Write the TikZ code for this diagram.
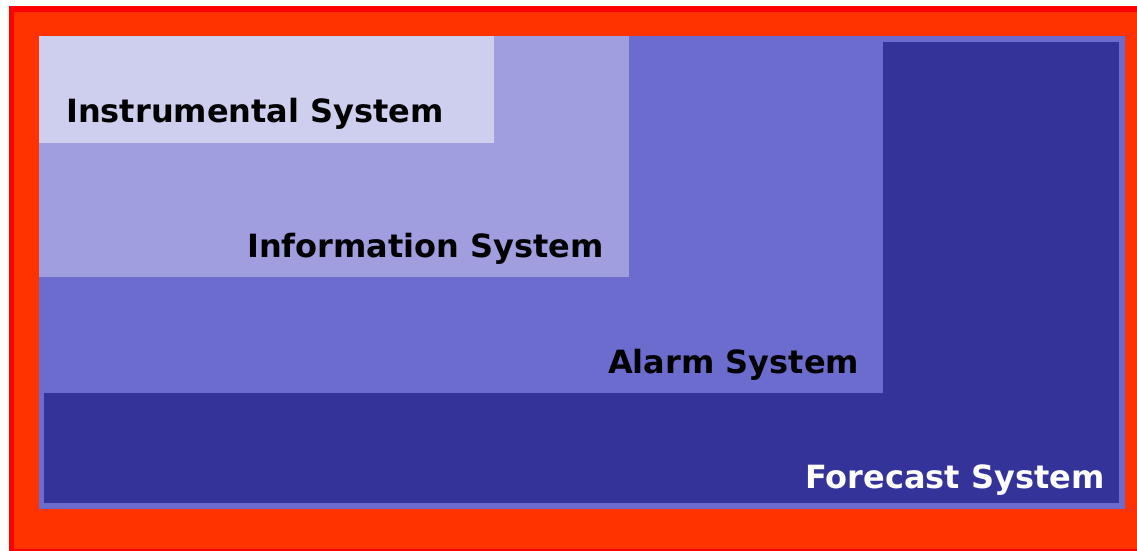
\documentclass[tikz,border=0pt]{standalone}
\usepackage{fontspec}
\setmainfont{DejaVu Sans}
\usepackage{tikz}
\usetikzlibrary{positioning}

\definecolor{frame}{HTML}{FF3300}
\definecolor{frameedge}{HTML}{FF0000}
\definecolor{instr}{HTML}{CECEEE}
\definecolor{info}{HTML}{A09EDE}
\definecolor{alarm}{HTML}{6C6CCE}
\definecolor{forecast}{HTML}{333399}

\begin{document}
\begin{tikzpicture}[x=1pt, y=-1pt, every node/.style={font=\fontsize{32}{36}\selectfont\bfseries}]
            \tikzstyle{label}=[anchor=base west, inner sep=0pt]
            \useasboundingbox (0,0) rectangle (1137,551);
            % outer red frame
            \fill[frameedge] (9,6) rectangle (1137,551);
            \fill[frame] (14,12) rectangle (1137,549);
            % nested layers, outermost first
            \fill[alarm] (39,36) rectangle (1125,509);
            \fill[forecast] (44,42) rectangle (1119,503);
            \fill[alarm] (39,36) rectangle (883,393);
            \fill[info] (39,36) rectangle (629,277);
            \fill[instr] (39,36) rectangle (494,143);
            \node[label] (instrumental) at (66,122) {Instrumental System};
            \node[label] (information) at (247,257) {Information System};
            \node[label] (alarmsys) at (608,373) {Alarm System};
            \node[label, text=white] (forecastsys) at (805,488) {Forecast System};
        \end{tikzpicture}
\end{document}
